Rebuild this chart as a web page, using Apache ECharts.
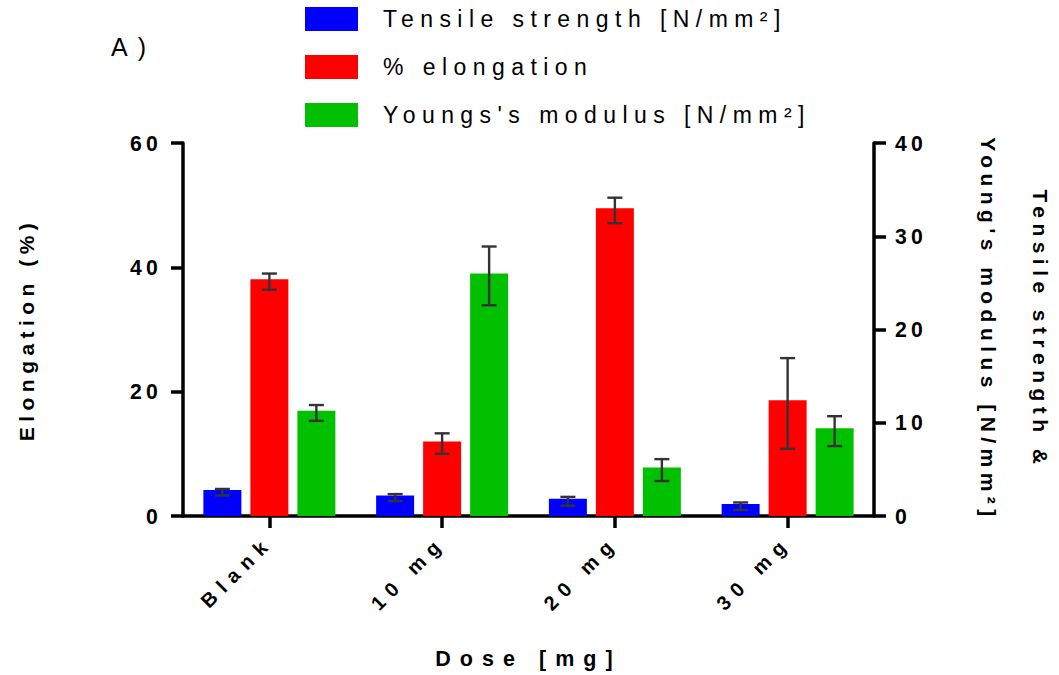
<!DOCTYPE html>
<html>
<head>
    <meta charset="utf-8">
    <title>Dose vs mechanical properties</title>
    <script type="text/javascript" src="https://cdn.jsdelivr.net/npm/echarts@6/dist/echarts.min.js"></script>
    <style>
        html, body { margin: 0; padding: 0; background: #fff; }
        /* the original figure draws its text with wide character spacing */
        #main text { letter-spacing: 0.3em; }
        #main text[style*="21.2px"] { letter-spacing: 0.2em; }
        #main text[style*="20px"] { letter-spacing: 0.38em; }
        #main text[style*="21px"] { letter-spacing: 0.26em; }
        #main text[style*="21.5px"] { letter-spacing: 0.42em; }
        #main text[style*="23px"] { letter-spacing: 0.28em; }
        #main text[style*="25px"] { letter-spacing: 0.4em; }
    </style>
</head>
<body>
    <div id="main" style="width: 1059px;height:675px;"></div>
    <script type="text/javascript">
        var categories = ['Blank', '10 mg', '20 mg', '30 mg'];

        // Tensile strength [N/mm2], right axis
        var tensile     = [2.8, 2.2, 1.85, 1.3];
        var tensileLow  = [2.2, 1.6, 1.1, 0.65];
        var tensileHigh = [2.9, 2.35, 2.05, 1.45];

        // % elongation, left axis
        var elongation     = [38.1, 12.0, 49.5, 18.6];
        var elongationLow  = [36.4, 10.0, 47.1, 10.8];
        var elongationHigh = [39.0, 13.3, 51.2, 25.4];

        // Young's modulus [N/mm2], right axis
        var youngs     = [11.3, 26.0, 5.2, 9.4];
        var youngsLow  = [10.2, 22.6, 3.75, 7.5];
        var youngsHigh = [11.9, 28.9, 6.1, 10.7];

        var leftTicks = [0, 20, 40, 60];
        var rightTicks = [0, 10, 20, 30, 40];

        var FONT = 'Liberation Sans, Arial, Helvetica, sans-serif';
        var BAR_W = 38, BAR_GAP = 9;

        function errorBars(low, high) {
            return categories.map(function (c, i) { return [i, low[i], high[i]]; });
        }

        function errorItem(offset) {
            return function (params, api) {
                var i = api.value(0);
                var lo = api.coord([i, api.value(1)]);
                var hi = api.coord([i, api.value(2)]);
                var x = lo[0] + offset, w = 7.5;
                var style = { stroke: '#333', lineWidth: 2.4 };
                return {
                    type: 'group',
                    children: [
                        { type: 'line', shape: { x1: x, y1: hi[1], x2: x, y2: lo[1] }, style: style },
                        { type: 'line', shape: { x1: x - w, y1: hi[1], x2: x + w, y2: hi[1] }, style: style },
                        { type: 'line', shape: { x1: x - w, y1: lo[1], x2: x + w, y2: lo[1] }, style: style }
                    ]
                };
            };
        }

        var axisLine = { show: true, lineStyle: { color: '#000', width: 3.5 } };
        var axisTick = { show: true, length: 12, lineStyle: { color: '#000', width: 3.5 } };

        var option = {
            animation: false,
            textStyle: { fontFamily: FONT },
            title: {
                text: 'A)',
                left: 106, top: 29,
                textStyle: { fontSize: 25, fontWeight: 'normal', color: '#000', fontFamily: FONT }
            },
            legend: {
                orient: 'vertical',
                left: 300, top: 2,
                itemWidth: 53, itemHeight: 24, itemGap: 24,
                icon: 'rect',
                data: ['Tensile strength [N/mm²]', '% elongation', "Youngs's modulus [N/mm²]"],
                textStyle: { fontSize: 23, color: '#000', fontFamily: FONT, padding: [0, 0, 0, 20] }
            },
            grid: { left: 183, right: 185, top: 143, bottom: 159, outerBoundsMode: 'none' },
            xAxis: {
                type: 'category',
                data: categories,
                name: 'Dose [mg]',
                nameLocation: 'middle',
                nameGap: 132,
                nameTextStyle: { fontSize: 21.5, fontWeight: 'bold', color: '#000', fontFamily: FONT },
                axisLine: axisLine,
                axisTick: Object.assign({ alignWithLabel: true }, axisTick),
                axisLabel: { rotate: 45, margin: 23, fontSize: 20, fontWeight: 'bold', color: '#000', fontFamily: FONT }
            },
            yAxis: [{
                type: 'value',
                min: leftTicks[0], max: leftTicks[leftTicks.length - 1], interval: leftTicks[1] - leftTicks[0],
                name: 'Elongation (%)',
                nameLocation: 'middle',
                nameRotate: 90,
                nameGap: 146,
                nameTextStyle: { fontSize: 21, fontWeight: 'bold', color: '#000', fontFamily: FONT },
                axisLine: axisLine,
                axisTick: axisTick,
                splitLine: { show: false },
                axisLabel: { margin: 21, fontSize: 21.2, fontWeight: 'bold', color: '#000', fontFamily: FONT }
            }, {
                type: 'value',
                position: 'right',
                min: rightTicks[0], max: rightTicks[rightTicks.length - 1], interval: rightTicks[1] - rightTicks[0],
                name: "Tensile strength &\nYoung's modulus [N/mm²]",
                nameLocation: 'middle',
                nameRotate: -90,
                nameGap: 88,
                nameTextStyle: { fontSize: 21, fontWeight: 'bold', color: '#000', lineHeight: 52, fontFamily: FONT },
                axisLine: axisLine,
                axisTick: axisTick,
                splitLine: { show: false },
                axisLabel: { margin: 21, fontSize: 21.2, fontWeight: 'bold', color: '#000', fontFamily: FONT }
            }],
            series: [{
                name: 'Tensile strength [N/mm²]',
                type: 'bar',
                yAxisIndex: 1,
                barWidth: BAR_W,
                itemStyle: { color: '#0000ff' },
                data: tensile
            }, {
                name: '% elongation',
                type: 'bar',
                yAxisIndex: 0,
                barWidth: BAR_W,
                itemStyle: { color: '#ff0000' },
                data: elongation
            }, {
                name: "Youngs's modulus [N/mm²]",
                type: 'bar',
                yAxisIndex: 1,
                barWidth: BAR_W,
                barGap: (BAR_GAP / BAR_W * 100) + '%',
                itemStyle: { color: '#00c000' },
                data: youngs
            }, {
                name: 'tensile error',
                type: 'custom',
                yAxisIndex: 1,
                z: 5,
                renderItem: errorItem(-(BAR_W + BAR_GAP)),
                encode: { x: 0, y: [1, 2] },
                data: errorBars(tensileLow, tensileHigh)
            }, {
                name: 'elongation error',
                type: 'custom',
                yAxisIndex: 0,
                z: 5,
                renderItem: errorItem(0),
                encode: { x: 0, y: [1, 2] },
                data: errorBars(elongationLow, elongationHigh)
            }, {
                name: 'youngs error',
                type: 'custom',
                yAxisIndex: 1,
                z: 5,
                renderItem: errorItem(BAR_W + BAR_GAP),
                encode: { x: 0, y: [1, 2] },
                data: errorBars(youngsLow, youngsHigh)
            }]
        };

        echarts.init(document.getElementById('main'), null, { renderer: 'svg' })
            .setOption(option);
    </script>
</body>
</html>
